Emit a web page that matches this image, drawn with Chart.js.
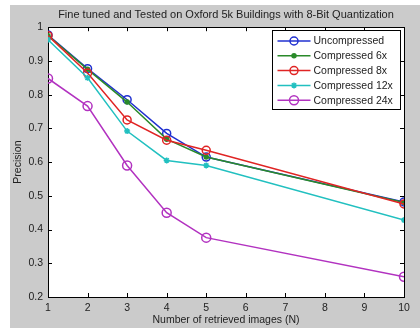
<!DOCTYPE html>
<html>
<head>
<meta charset="utf-8">
<script src="https://cdn.jsdelivr.net/npm/chart.js@4"></script>
<style>
  body { margin: 0; background: #fff; }
  #wrap { position: absolute; left: 10px; top: 5px; width: 410px; height: 323px; background: #cbcbcb; }
</style>
</head>
<body>
<div id="wrap"><canvas id="precisionChart" width="410" height="323"></canvas></div>
<script>
  // retrieved images N
  const xs = [1, 2, 3, 4, 5, 10];
  const seriesNames = ["Uncompressed", "Compressed 6x", "Compressed 8x", "Compressed 12x", "Compressed 24x"];
  const uncompressed = [0.977, 0.877, 0.785, 0.685, 0.615, 0.482];
  const compressed6x = [0.975, 0.875, 0.778, 0.668, 0.615, 0.48];
  const compressed8x = [0.975, 0.864, 0.725, 0.665, 0.635, 0.476];
  const compressed12x = [0.963, 0.85, 0.692, 0.605, 0.59, 0.428];
  const compressed24x = [0.848, 0.766, 0.59, 0.45, 0.376, 0.26];

  const colors = ["#2030d0", "#2a8a2a", "#e02424", "#22c0c0", "#b232c0"];
  const markers = ["circle", "circle", "circle", "star", "circle"];
  const radii = [4, 2, 4, 3, 4.5];
  const filled = [false, true, false, false, false];
  const allValues = [uncompressed, compressed6x, compressed8x, compressed12x, compressed24x];

  const FONT = "'Liberation Sans', Arial, sans-serif";
  const TEXT = "#222";
  const FS = 10.5;

  const datasets = allValues.map((vals, i) => ({
    label: seriesNames[i],
    data: vals.map((v, j) => ({ x: xs[j], y: v })),
    borderColor: colors[i],
    backgroundColor: colors[i],
    borderWidth: 1.5,
    pointStyle: markers[i],
    pointRadius: radii[i],
    pointBorderWidth: 1.5,
    pointBackgroundColor: filled[i] ? colors[i] : "rgba(0,0,0,0)",
    pointBorderColor: colors[i],
    tension: 0,
    order: 5 - i, // later series drawn on top like matlab
  }));

  // white plot area, box and inward ticks
  const axesPlugin = {
    id: "axesBox",
    beforeDraw(chart) {
      const c = chart.ctx, a = chart.chartArea;
      c.save();
      c.fillStyle = "#fff";
      c.fillRect(a.left, a.top, a.right - a.left, a.bottom - a.top);
      c.restore();
    },
    beforeDatasetsDraw(chart) {
      const c = chart.ctx, a = chart.chartArea;
      c.save();
      c.strokeStyle = "#000";
      c.lineWidth = 1;
      const tl = 4;
      c.beginPath();
      chart.scales.y.ticks.forEach(t => {
        const y = Math.round(chart.scales.y.getPixelForValue(t.value)) + 0.5;
        c.moveTo(a.left, y); c.lineTo(a.left + tl, y);
        c.moveTo(a.right, y); c.lineTo(a.right - tl, y);
      });
      chart.scales.x.ticks.forEach(t => {
        const x = Math.round(chart.scales.x.getPixelForValue(t.value)) + 0.5;
        c.moveTo(x, a.bottom); c.lineTo(x, a.bottom - tl);
        c.moveTo(x, a.top); c.lineTo(x, a.top + tl);
      });
      c.stroke();
      c.strokeRect(Math.round(a.left) + 0.5, Math.round(a.top) + 0.5, Math.round(a.right - a.left), Math.round(a.bottom - a.top));
      c.restore();
    },
    afterDatasetsDraw(chart) {
      // legend box in upper right corner
      const c = chart.ctx, a = chart.chartArea;
      const w = 128, h = 79;
      const bx = Math.round(a.right - 4 - w) + 0.5, by = Math.round(a.top + 3) + 0.5;
      c.save();
      c.fillStyle = "#fff";
      c.fillRect(bx, by, w, h);
      c.strokeStyle = "#000";
      c.lineWidth = 1;
      c.strokeRect(bx, by, w, h);
      c.font = FS + "px " + FONT;
      c.textBaseline = "middle";
      chart.data.datasets.forEach((ds, i) => {
        const y = by + 10.5 + i * 14.8;
        const mx = bx + 21.5;
        c.strokeStyle = ds.borderColor;
        c.lineWidth = 1.5;
        c.beginPath();
        c.moveTo(bx + 5, y); c.lineTo(bx + 38, y);
        c.stroke();
        c.fillStyle = ds.pointBackgroundColor;
        Chart.helpers.drawPoint(c, {
          pointStyle: ds.pointStyle, radius: ds.pointRadius, borderWidth: 1.5, rotation: 0
        }, mx, y);
        c.fillStyle = TEXT;
        c.fillText(ds.label, bx + 41, y + 0.5);
      });
      c.restore();
    }
  };

  const ctx = document.getElementById("precisionChart").getContext("2d");
  const precisionChart = new Chart(ctx, {
    type: "line",
    data: { datasets: datasets },
    plugins: [axesPlugin],
    options: {
      responsive: false,
      animation: false,
      layout: { padding: { left: 0, right: 16, top: 0, bottom: 0 } },
      plugins: {
        legend: { display: false },
        tooltip: { enabled: false },
        title: {
          display: true,
          fullSize: false,
          text: "Fine tuned and Tested on Oxford 5k Buildings with 8-Bit Quantization",
          color: TEXT,
          font: { family: FONT, size: 11, weight: "normal" },
          padding: { top: 3, bottom: 6 },
        },
      },
      scales: {
        x: {
          type: "linear",
          min: 1,
          max: 10,
          grid: { display: false, drawTicks: false },
          border: { display: false },
          ticks: { stepSize: 1, padding: 5, color: TEXT, font: { family: FONT, size: FS } },
          title: {
            display: true,
            text: "Number of retrieved images (N)",
            color: TEXT,
            font: { family: FONT, size: FS },
            padding: { top: 0, bottom: 2 },
          },
          afterFit(scale) { scale.height = 31; },
        },
        y: {
          min: 0.2,
          max: 1,
          grid: { display: false, drawTicks: false },
          border: { display: false },
          ticks: {
            stepSize: 0.1, padding: 5, color: TEXT, font: { family: FONT, size: FS },
            callback: v => Number(v.toFixed(1)).toString(),
          },
          title: {
            display: true,
            text: "Precision",
            color: TEXT,
            font: { family: FONT, size: FS },
            padding: { top: 2, bottom: 0 },
          },
          afterFit(scale) { scale.width = 38; },
        },
      },
    },
  });
</script>
</body>
</html>
